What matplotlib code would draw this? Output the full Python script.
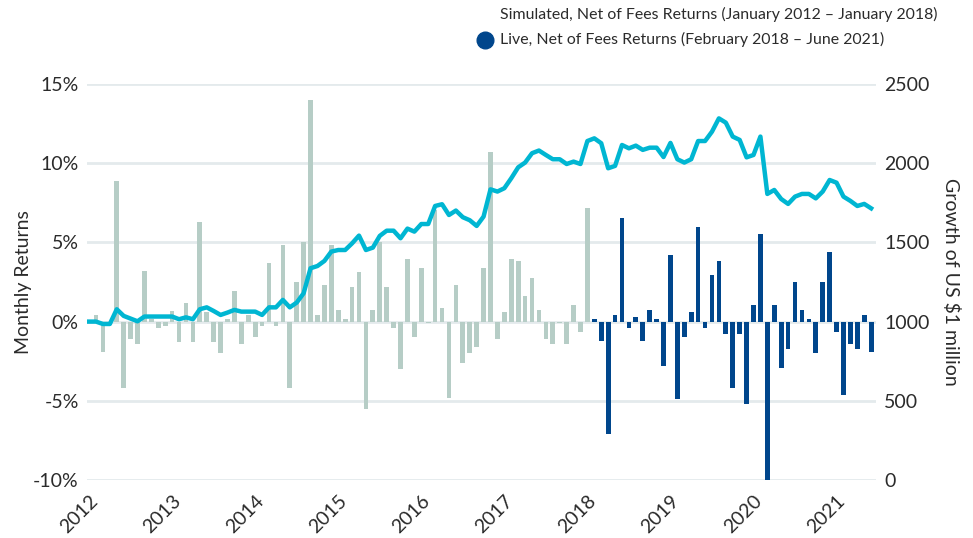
import matplotlib
matplotlib.use('Agg')
from matplotlib import pyplot as plt
from matplotlib.lines import Line2D
import numpy as np

plt.rcParams['font.family'] = ['Lato', 'DejaVu Sans']

# monthly net returns in %, Jan 2012 - Jan 2018 (simulated)
sim_returns = [0.1, 0.4, -1.9, -0.1, 8.9, -4.2, -1.1, -1.4, 3.2, 0.15,
               -0.4, -0.25, 0.7, -1.3, 1.2, -1.3, 6.3, 0.6, -1.3, -2.0,
               0.15, 1.95, -1.4, 0.4, -1.0, -0.25, 3.7, -0.25, 4.85, -4.2,
               2.5, 5.0, 14.0, 0.4, 2.3, 4.85, 0.75, 0.15, 2.2, 3.1,
               -5.5, 0.75, 5.0, 2.2, -0.4, -3.0, 3.95, -1.0, 3.4, -0.1,
               7.05, 0.85, -4.8, 2.3, -2.6, -2.0, -1.6, 3.4, 10.7, -1.1,
               0.6, 3.95, 3.85, 1.6, 2.75, 0.75, -1.1, -1.4, -0.1, -1.4,
               1.05, -0.65, 7.2]
# Feb 2018 - Jun 2021 (live)
live_returns = [0.15, -1.25, -7.1, 0.4, 6.55, -0.4, 0.3, -1.25, 0.75, 0.15,
                -2.8, 4.2, -4.9, -1.0, 0.6, 6.0, -0.4, 2.95, 3.85, -0.8,
                -4.2, -0.8, -5.2, 1.05, 5.55, -10.0, 1.05, -2.9, -1.7, 2.5,
                0.75, 0.15, -2.0, 2.5, 4.4, -0.65, -4.65, -1.4, -1.7, 0.4,
                -1.9]

# growth of US $1 million (thousands), one value per month
growth = [1000, 1000, 985, 985, 1078, 1036, 1019, 1002, 1032, 1032,
          1032, 1032, 1032, 1015, 1027, 1015, 1078, 1090, 1067, 1042,
          1057, 1074, 1063, 1063, 1063, 1042, 1090, 1090, 1137, 1090,
          1120, 1179, 1337, 1351, 1383, 1442, 1452, 1452, 1494, 1543,
          1452, 1467, 1541, 1574, 1574, 1526, 1587, 1568, 1616, 1616,
          1730, 1741, 1673, 1701, 1659, 1640, 1604, 1663, 1835, 1821,
          1842, 1905, 1974, 2004, 2063, 2080, 2052, 2025, 2025, 1995,
          2010, 1995, 2140, 2157, 2126, 1968, 1983, 2115, 2094, 2111,
          2084, 2098, 2098, 2039, 2128, 2025, 2004, 2025, 2140, 2140,
          2199, 2283, 2256, 2168, 2147, 2037, 2052, 2168, 1806, 1831,
          1774, 1743, 1789, 1806, 1806, 1778, 1821, 1894, 1877, 1789,
          1762, 1730, 1743, 1715]

years = ['2012', '2013', '2014', '2015', '2016', '2017', '2018', '2019', '2020', '2021']

light = '#b6cdc6'
blue = '#00468c'
cyan = '#00b6d2'
grid_c = '#e4eaec'
txt = '#2b2b2b'

n_sim = len(sim_returns)
x_sim = np.arange(n_sim)
x_live = np.arange(n_sim, n_sim + len(live_returns))
x_all = np.arange(len(growth))

fig = plt.figure(figsize=(9.73, 5.38), dpi=100)
ax = fig.add_axes([87 / 973, 1 - 480 / 538, (876 - 87) / 973, (480 - 84) / 538])

ax.bar(x_sim, sim_returns, width=0.68, color=light, zorder=2)
ax.bar(x_live, live_returns, width=0.68, color=blue, zorder=2)

ax.set_ylim(-10, 15)
ax.set_xlim(-0.3, 113.7)
ax.set_yticks([-10, -5, 0, 5, 10, 15])
ax.set_yticklabels(['-10%', '-5%', '0%', '5%', '10%', '15%'])
ax.yaxis.grid(True, color=grid_c, linewidth=2)
ax.set_axisbelow(True)
ax.set_xticks(np.arange(0, 12 * len(years), 12))
ax.set_xticklabels(years, rotation=45, ha='right', va='top', rotation_mode='anchor')
ax.tick_params(axis='both', length=0, labelsize=14, labelcolor=txt)
ax.tick_params(axis='x', pad=9)
ax.tick_params(axis='y', pad=6)
for s in ax.spines.values():
    s.set_visible(False)
ax.set_ylabel('Monthly Returns', fontsize=14, color=txt, labelpad=1)

ax2 = ax.twinx()
ax2.plot(x_all, growth, color=cyan, linewidth=3.2, solid_joinstyle='round', zorder=3)
ax2.set_ylim(0, 2500)
ax2.set_yticks([0, 500, 1000, 1500, 2000, 2500])
ax2.tick_params(axis='y', length=0, labelsize=14, labelcolor=txt, pad=6)
for s in ax2.spines.values():
    s.set_visible(False)
ax2.set_ylabel('Growth of US $1 million', fontsize=14, color=txt, rotation=270, labelpad=22)

# legend at top
fig.text(500 / 973, 1 - 14 / 538, 'Simulated, Net of Fees Returns (January 2012 \u2013 January 2018)',
         fontsize=11.4, color=txt, va='center', ha='left')
fig.text(500 / 973, 1 - 39 / 538, 'Live, Net of Fees Returns (February 2018 \u2013 June 2021)',
         fontsize=11.4, color=txt, va='center', ha='left')
fig.add_artist(Line2D([485 / 973], [1 - 40 / 538], marker='o', markersize=12, color=blue,
                      linestyle='', transform=fig.transFigure))

fig.savefig('out.png', dpi=100)
